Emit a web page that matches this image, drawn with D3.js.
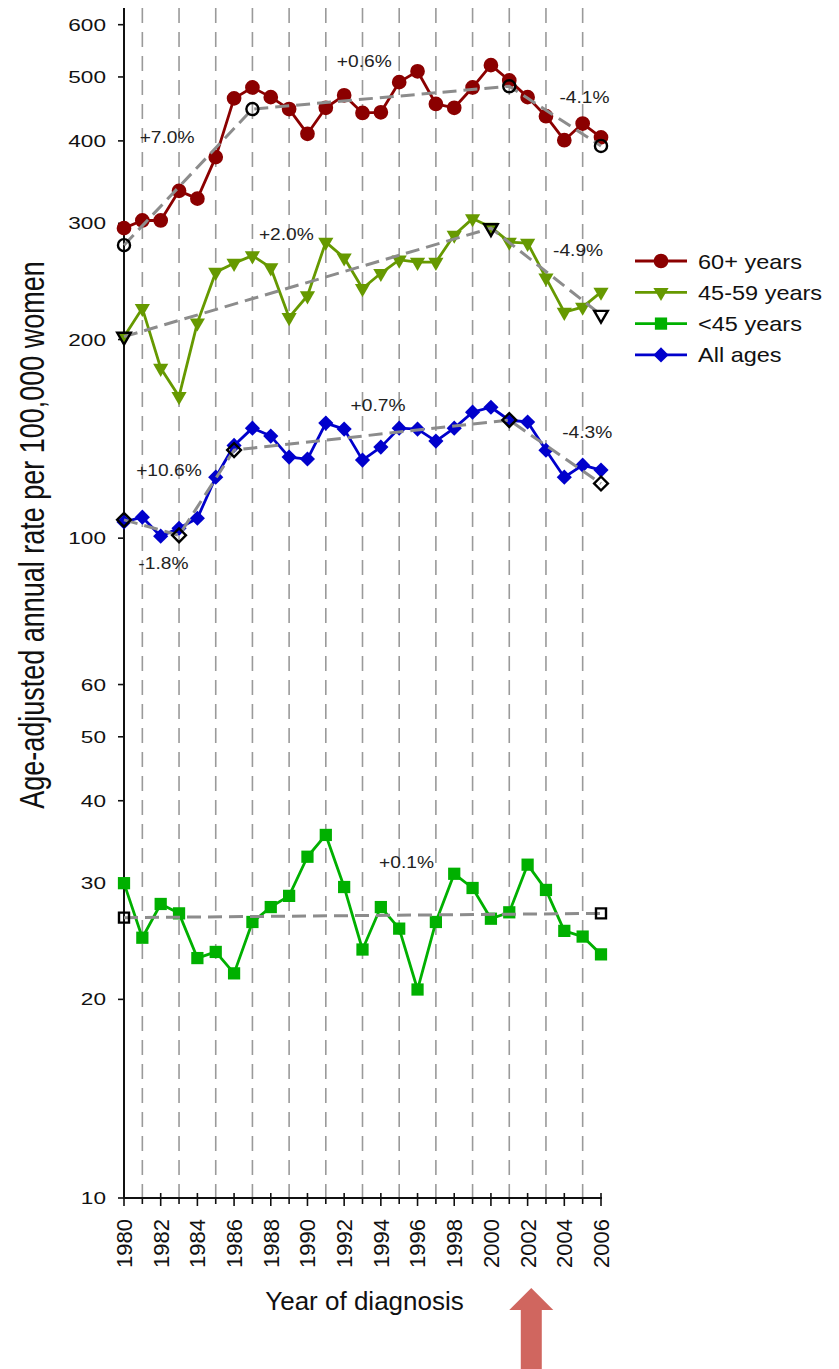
<!DOCTYPE html>
<html>
<head>
<meta charset="utf-8">
<script src="https://cdn.jsdelivr.net/npm/d3@7"></script>
<style>
  html, body { margin: 0; padding: 0; background: #fff; }
  svg { display: block; font-family: Arial, "Liberation Sans", sans-serif; }
</style>
</head>
<body>
<svg id="chart" width="839" height="1369"></svg>
<script>
// ---------------- data ----------------
const years = [1980,1981,1982,1983,1984,1985,1986,1987,1988,1989,1990,1991,1992,1993,1994,1995,1996,1997,1998,1999,2000,2001,2002,2003,2004,2005,2006];
const rate60plus = [295,303,303,336,327,378,464,482,466,447,410,449,469,441,442,491,510,455,449,482,521,494,466,436,401,425,405];
const rate45to59 = [202,223,181,164,212,253,261,268,257,216,233,281,266,239,252,264,262,262,288,305,296,281,280,248,220,224,236];
const rateUnder45 = [30.0,24.8,27.9,27.0,23.1,23.6,21.9,26.2,27.6,28.7,32.9,35.5,29.6,23.8,27.6,25.6,20.7,26.2,31.0,29.5,26.5,27.1,32.0,29.3,25.4,24.9,23.4];
const rateAllAges = [105.8,107.6,100.7,103.5,107.2,123.7,138.2,146.8,142.8,132.7,131.8,149.4,146.3,131.3,137.4,146.8,146.3,140.3,146.8,155.2,157.9,150.9,150.0,135.9,123.7,129.0,126.8];

// joinpoint fitted trend segments: [year, value]
const trend60plus = [[1980,278],[1987,447],[2001,484],[2006,393]];
const trend45to59 = [[1980,202],[2000,295],[2006,218]];
const trendUnder45 = [[1980,26.6],[2006,27.0]];
const trendAllAges = [[1980,106.6],[1983,101],[1986,136],[2001,151],[2006,121]];

const seriesNames = ["60+ years","45-59 years","<45 years","All ages"];

// annotation labels: [label, year, value]
const annotations = [
  ["+7.0%", 1982.35, 405],
  ["+0.6%", 1993.1, 528],
  ["-4.1%", 2005.1, 466],
  ["+2.0%", 1988.85, 289],
  ["-4.9%", 2004.75, 273],
  ["+0.7%", 1993.85, 159],
  ["-4.3%", 2005.25, 145],
  ["+10.6%", 1982.45, 127],
  ["-1.8%", 1982.15, 91.6],
  ["+0.1%", 1995.4, 32.3]
];

const yTickValues = [10,20,30,40,50,60,100,200,300,400,500,600];
const xTickLabels = ["1980","1982","1984","1986","1988","1990","1992","1994","1996","1998","2000","2002","2004","2006"];
const arrowYear = 2002.2;

// ---------------- layout ----------------
const svg = d3.select("#chart");
const x = d3.scaleLinear().domain([1980, 2006]).range([124, 601]);
const y = d3.scaleLog().domain([10, 636]).range([1198, 8]);

const colors = ["#8B0000", "#669900", "#00B000", "#0000CC"];
const series = [rate60plus, rate45to59, rateUnder45, rateAllAges];
const trends = [trend60plus, trend45to59, trendUnder45, trendAllAges];

const symbolDefs = [
  {type: d3.symbolCircle, size: 170, rot: 0},
  {type: d3.symbolTriangle, size: 100, rot: 180},
  {type: d3.symbolSquare, size: 150, rot: 0},
  {type: d3.symbolSquare, size: 115, rot: 45}
];
const openSymbolDefs = [
  {type: d3.symbolCircle, size: 115, rot: 0},
  {type: d3.symbolTriangle, size: 80, rot: 180},
  {type: d3.symbolSquare, size: 100, rot: 0},
  {type: d3.symbolSquare, size: 95, rot: 45}
];

// ---------------- grid (odd years) ----------------
svg.append("g").selectAll("line")
  .data(years.filter(d => d % 2 === 1))
  .join("line")
  .attr("x1", d => x(d)).attr("x2", d => x(d))
  .attr("y1", y(636)).attr("y2", y(10))
  .attr("stroke", "#9a9a9a").attr("stroke-width", 1.6)
  .attr("stroke-dasharray", "15,9");

// ---------------- axes ----------------
const axisG = svg.append("g");
axisG.append("line")
  .attr("x1", x(1980)).attr("x2", x(1980))
  .attr("y1", y(636)).attr("y2", y(10))
  .attr("stroke", "#111").attr("stroke-width", 2);
axisG.append("line")
  .attr("x1", x(1980) - 1).attr("x2", x(2006) + 1)
  .attr("y1", y(10)).attr("y2", y(10))
  .attr("stroke", "#111").attr("stroke-width", 2);

// y ticks
axisG.selectAll(".yt").data(yTickValues).join("line")
  .attr("class", "yt")
  .attr("x1", x(1980) - 6).attr("x2", x(1980))
  .attr("y1", d => y(d)).attr("y2", d => y(d))
  .attr("stroke", "#111").attr("stroke-width", 1.6);
axisG.selectAll(".yl").data(yTickValues).join("text")
  .attr("class", "yl")
  .attr("transform", d => `translate(${x(1980) - 18},${y(d)}) scale(1.33,1)`)
  .attr("text-anchor", "end")
  .attr("dy", "0.36em")
  .attr("font-size", 17)
  .attr("fill", "#111")
  .text(d => d);

// x ticks
axisG.selectAll(".xt").data(years).join("line")
  .attr("class", "xt")
  .attr("x1", d => x(d)).attr("x2", d => x(d))
  .attr("y1", d => y(10) - (d % 2 === 0 ? 5 : 0))
  .attr("y2", d => y(10) + (d % 2 === 0 ? 8 : 6))
  .attr("stroke", "#111").attr("stroke-width", 1.6);
axisG.selectAll(".xl").data(xTickLabels).join("text")
  .attr("class", "xl")
  .attr("transform", d => `translate(${x(+d)},${y(10) + 21}) rotate(-90)`)
  .attr("text-anchor", "end")
  .attr("dy", "0.36em")
  .attr("font-size", 22)
  .attr("fill", "#111")
  .text(d => d);

// axis titles
svg.append("text")
  .attr("transform", `translate(${(x(1980) + x(2006)) / 2 + 2},${y(10) + 112})`)
  .attr("text-anchor", "middle")
  .attr("font-size", 26)
  .attr("fill", "#111")
  .text("Year of diagnosis");

svg.append("text")
  .attr("transform", `translate(31,${y(10) - 663}) scale(1.33,1) rotate(-90)`)
  .attr("text-anchor", "middle")
  .attr("dy", "0.35em")
  .attr("font-size", 27)
  .attr("fill", "#111")
  .text("Age-adjusted annual rate per 100,000 women");

// ---------------- data lines and markers ----------------
const line = d3.line().x((d, i) => x(years[i])).y(d => y(d));
series.forEach((vals, si) => {
  const g = svg.append("g");
  g.append("path")
    .attr("d", line(vals))
    .attr("fill", "none")
    .attr("stroke", colors[si])
    .attr("stroke-width", 2.8)
    .attr("stroke-linejoin", "round");
  const sd = symbolDefs[si];
  g.selectAll("path.m").data(vals).join("path")
    .attr("class", "m")
    .attr("d", d3.symbol().type(sd.type).size(sd.size))
    .attr("transform", (d, i) => `translate(${x(years[i])},${y(d)}) rotate(${sd.rot})`)
    .attr("fill", colors[si]);
});

// ---------------- joinpoint trend lines ----------------
const tline = d3.line().x(d => x(d[0])).y(d => y(d[1]));
trends.forEach((tr, si) => {
  const g = svg.append("g");
  g.append("path")
    .attr("d", tline(tr))
    .attr("fill", "none")
    .attr("stroke", "#8c8c8c")
    .attr("stroke-width", 3)
    .attr("stroke-dasharray", "14,7");
  const od = openSymbolDefs[si];
  g.selectAll("path.o").data(tr).join("path")
    .attr("class", "o")
    .attr("d", d3.symbol().type(od.type).size(od.size))
    .attr("transform", d => `translate(${x(d[0])},${y(d[1])}) rotate(${od.rot})`)
    .attr("fill", "none")
    .attr("stroke", "#000")
    .attr("stroke-width", 2.4);
});

// ---------------- annotations ----------------
svg.append("g").selectAll("text").data(annotations).join("text")
  .attr("transform", d => `translate(${x(d[1])},${y(d[2])}) scale(1.13,1)`)
  .attr("text-anchor", "middle")
  .attr("dy", "0.36em")
  .attr("font-size", 17)
  .attr("fill", "#222")
  .text(d => d[0]);

// ---------------- legend ----------------
const legend = svg.append("g").attr("transform", "translate(635,261)");
seriesNames.forEach((name, i) => {
  const row = legend.append("g").attr("transform", `translate(0,${i * 31.3})`);
  row.append("line").attr("x1", 0).attr("x2", 52).attr("y1", 0).attr("y2", 0)
    .attr("stroke", colors[i]).attr("stroke-width", 2.8);
  const sd = symbolDefs[i];
  row.append("path")
    .attr("d", d3.symbol().type(sd.type).size(sd.size)())
    .attr("transform", `translate(26,0) rotate(${sd.rot})`)
    .attr("fill", colors[i]);
  row.append("text")
    .attr("transform", "translate(63,0) scale(1.12,1)")
    .attr("dy", "0.36em")
    .attr("font-size", 21)
    .attr("fill", "#111")
    .text(name);
});

// ---------------- arrow ----------------
const ax = x(arrowYear);
const tipY = y(10) + 90;
const arrowPath = d3.path();
arrowPath.moveTo(ax, tipY);
arrowPath.lineTo(ax + 22, tipY + 22);
arrowPath.lineTo(ax + 10.5, tipY + 22);
arrowPath.lineTo(ax + 10.5, 1369);
arrowPath.lineTo(ax - 10.5, 1369);
arrowPath.lineTo(ax - 10.5, tipY + 22);
arrowPath.lineTo(ax - 22, tipY + 22);
arrowPath.closePath();
svg.append("path").attr("d", arrowPath.toString()).attr("fill", "#D0665F");
</script>
</body>
</html>
